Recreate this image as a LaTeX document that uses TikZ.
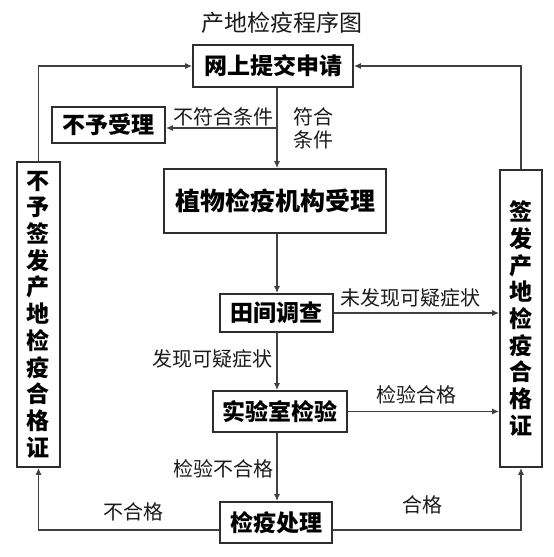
\documentclass[tikz,border=0pt]{standalone}
\usepackage{fontspec}
\newfontfamily\cjk{Noto Sans CJK SC}
\usetikzlibrary{arrows.meta,calc}
\definecolor{boxc}{HTML}{2E2E2E}
\definecolor{linec}{HTML}{404040}
\definecolor{txt}{HTML}{1A1A1A}
\begin{document}
\begin{tikzpicture}[x=1pt,y=-1pt,
  box/.style={draw=boxc,line width=1.6pt,inner sep=0pt,text=black,
    font=\cjk\bfseries\fontsize{23}{23}\selectfont},
  tallbox/.style={box,align=center,font=\cjk\bfseries\fontsize{23}{26.7}\selectfont},
  lab/.style={inner sep=0pt,text=txt,font=\cjk\fontsize{20}{23}\selectfont},
  conn/.style={draw=linec,line width=1.4pt,-{Latex[length=7pt,width=6pt]}}]
\useasboundingbox (0,0) rectangle (554,557);
\fill[white] (0,0) rectangle (554,557);
% title
\node[lab,font=\cjk\fontsize{23}{23}\selectfont] (title) at (282,23) {产地检疫程序图};
% boxes
\node[box,minimum width=160pt,minimum height=42pt] (n1) at (273,66) {网上提交申请};
\node[box,minimum width=113pt,minimum height=36pt] (n2) at (108.5,125) {不予受理};
\node[box,minimum width=222pt,minimum height=64pt,font=\cjk\bfseries\fontsize{25}{25}\selectfont] (n3) at (275,201) {植物检疫机构受理};
\node[box,minimum width=113pt,minimum height=38pt] (n4) at (276.5,313) {田间调查};
\node[box,minimum width=134pt,minimum height=41pt] (n5) at (280,411.5) {实验室检验};
\node[box,minimum width=112pt,minimum height=41pt] (n6) at (276,522.5) {检疫处理};
\node[tallbox,minimum width=43pt,minimum height=305pt] (L) at (38.5,314.5) {不\\予\\签\\发\\产\\地\\检\\疫\\合\\格\\证};
\node[tallbox,minimum width=42pt,minimum height=297pt] (R) at (521,318.5) {签\\发\\产\\地\\检\\疫\\合\\格\\证};
% helper coordinates
\coordinate (sp) at (277,0);
\coordinate (br) at (277,128);
\coordinate (bt) at (0,530);
% connectors
\draw[conn] (n1.south -| sp) -- (n3.north -| sp);
\draw[conn] (br) -- (br -| n2.east);
\draw[conn] (L.north) -- (L.north |- n1.west) -- (n1.west);
\draw[conn] (R.north) -- (R.north |- n1.east) -- (n1.east);
\draw[conn] (n3.south -| sp) -- (n4.north -| sp);
\draw[conn] (n4.east) -- (n4.east -| R.west);
\draw[conn] (n4.south -| sp) -- (n5.north -| sp);
\draw[conn] (n5.east) -- (n5.east -| R.west);
\draw[conn] (n5.south -| sp) -- (n6.north -| sp);
\draw[conn] (n6.west |- bt) -- (L.south |- bt) -- (L.south);
\draw[conn] (n6.east |- bt) -- (R.south |- bt) -- (R.south);
% labels
\node[lab] (l1) at (223.5,117) {不符合条件};
\node[lab,align=left,anchor=west] (l2) at (293,128.5) {符合\\条件};
\node[lab] (l3) at (410.5,298) {未发现可疑症状};
\node[lab] (l4) at (212.5,359) {发现可疑症状};
\node[lab] (l5) at (416,395) {检验合格};
\node[lab] (l6) at (223,469) {检验不合格};
\node[lab] (l7) at (133.5,512) {不合格};
\node[lab] (l8) at (422.5,505) {合格};
\end{tikzpicture}
\end{document}
